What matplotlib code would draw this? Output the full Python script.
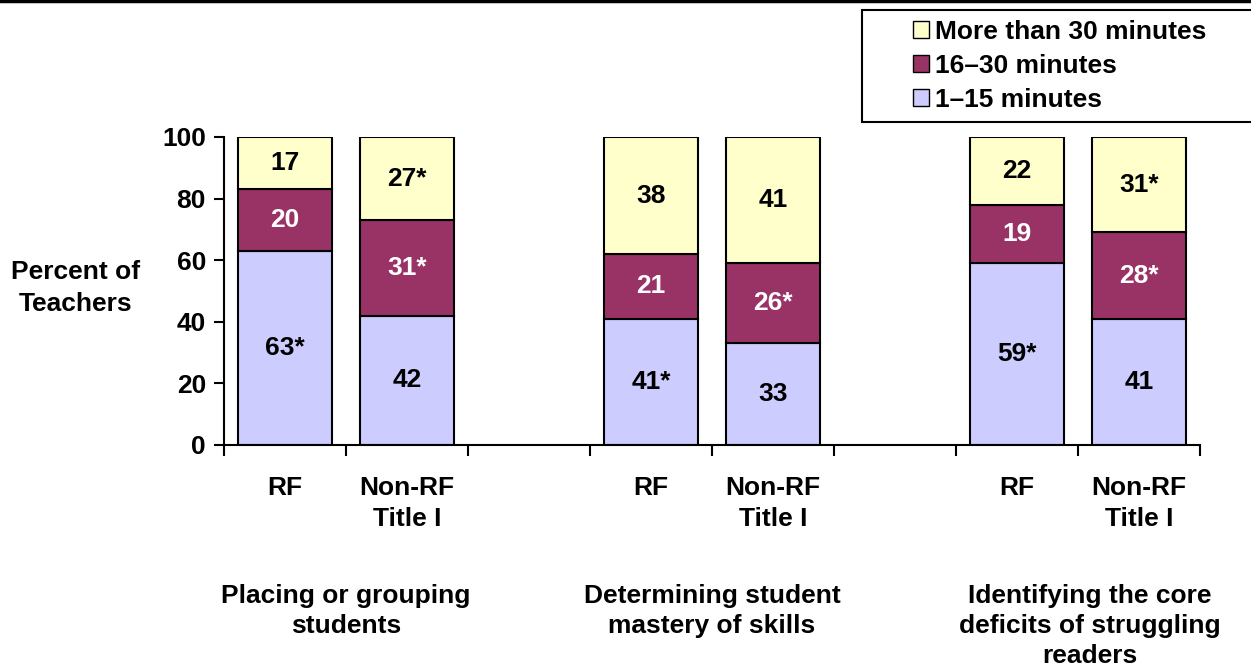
import numpy as np
import matplotlib.pyplot as plt
from matplotlib.patches import Patch, Rectangle
from matplotlib.lines import Line2D

plt.rcParams['font.family'] = ['Liberation Sans', 'DejaVu Sans']
plt.rcParams['font.weight'] = 'bold'
plt.rcParams['axes.labelweight'] = 'bold'

# data
bar_labels = ['RF', 'Non-RF\nTitle I', '', 'RF', 'Non-RF\nTitle I', '', 'RF', 'Non-RF\nTitle I']
bar_slots = [0, 1, 3, 4, 6, 7]
group_labels = ['Placing or grouping\nstudents',
                'Determining student\nmastery of skills',
                'Identifying the core\ndeficits of struggling\nreaders']
min_1_15 = [63, 42, 41, 33, 59, 41]
min_16_30 = [20, 31, 21, 26, 19, 28]
min_30_plus = [17, 27, 38, 41, 22, 31]
txt_1_15 = ['63*', '42', '41*', '33', '59*', '41']
txt_16_30 = ['20', '31*', '21', '26*', '19', '28*']
txt_30_plus = ['17', '27*', '38', '41', '22', '31*']

c_low = '#CCCCFF'
c_mid = '#993366'
c_high = '#FFFFCC'

W, H = 1251, 668
fig = plt.figure(figsize=(W / 100, H / 100), dpi=100)
ax = fig.add_axes([224 / W, 1 - 445 / H, 976 / W, 308 / H])

x = np.array(bar_slots)
low = np.array(min_1_15)
mid = np.array(min_16_30)
high = np.array(min_30_plus)
w = 0.77
kw = dict(width=w, edgecolor='black', linewidth=1.5)
ax.bar(x, low, color=c_low, **kw)
ax.bar(x, mid, bottom=low, color=c_mid, **kw)
ax.bar(x, high, bottom=low + mid, color=c_high, **kw)

fs = 19
for i, xi in enumerate(x):
    ax.text(xi, low[i] / 2, txt_1_15[i], ha='center', va='center', fontsize=fs, color='black')
    ax.text(xi, low[i] + mid[i] / 2, txt_16_30[i], ha='center', va='center', fontsize=fs, color='white')
    ax.text(xi, low[i] + mid[i] + high[i] / 2, txt_30_plus[i], ha='center', va='center', fontsize=fs, color='black')

ax.set_xlim(-0.5, 7.5)
ax.set_ylim(0, 100)
ax.set_yticks(np.arange(0, 101, 20))
ax.tick_params(axis='y', labelsize=fs, length=7, width=1.5, pad=6)
ax.set_xticks(np.arange(8))
ax.set_xticklabels(bar_labels, fontsize=fs, linespacing=1.4)
ax.set_xticks(np.arange(-0.5, 8, 1), minor=True)
ax.tick_params(axis='x', which='major', length=0, pad=22)
ax.tick_params(axis='x', which='minor', length=8, width=1.5)
for s in ['top', 'right']:
    ax.spines[s].set_visible(False)
for s in ['left', 'bottom']:
    ax.spines[s].set_linewidth(1.5)

ax.set_ylabel('Percent of\nTeachers', fontsize=fs, fontweight='bold', rotation=0,
              ha='center', va='center', linespacing=1.4)
ax.yaxis.set_label_coords(-0.152, 0.51)

group_centers = [0.5, 3.5, 6.6]
for gx, gl in zip(group_centers, group_labels):
    ax.text(gx, -0.452, gl, transform=ax.get_xaxis_transform(), ha='center', va='top',
            fontsize=fs, linespacing=1.3)

# legend frame drawn separately so it can run off the right edge
fig.add_artist(Rectangle((862 / W, 1 - 122 / H), 400 / W, 112 / H, transform=fig.transFigure,
                         facecolor='white', edgecolor='black', linewidth=1.5))
handles = [Patch(facecolor=c_high, edgecolor='black', linewidth=1),
           Patch(facecolor=c_mid, edgecolor='black', linewidth=1),
           Patch(facecolor=c_low, edgecolor='black', linewidth=1)]
leg = fig.legend(handles, ['More than 30 minutes', '16–30 minutes', '1–15 minutes'],
                 loc='upper left', bbox_to_anchor=(913 / W, 1 - 20 / H),
                 fontsize=fs, frameon=False,
                 handlelength=0.6, handleheight=0.6, handletextpad=0.25,
                 labelspacing=0.38, borderpad=0.0, borderaxespad=0)

fig.add_artist(Line2D([0, 1], [0.998, 0.998], transform=fig.transFigure, color='black', linewidth=2.5))

fig.savefig('out.png', dpi=100)
